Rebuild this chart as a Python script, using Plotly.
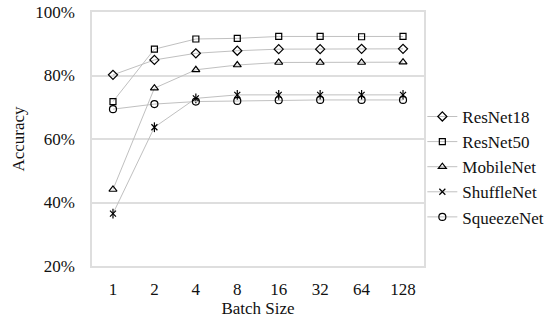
import plotly.graph_objects as go

batch_sizes = ["1", "2", "4", "8", "16", "32", "64", "128"]
resnet18 = [80.2, 84.9, 87.0, 87.8, 88.3, 88.3, 88.4, 88.4]
resnet50 = [71.8, 88.3, 91.5, 91.7, 92.3, 92.3, 92.2, 92.3]
mobilenet = [44.1, 76.0, 81.8, 83.3, 84.1, 84.1, 84.1, 84.2]
shufflenet = [36.5, 63.7, 72.8, 73.9, 73.9, 73.9, 73.9, 73.9]
squeezenet = [69.4, 71.0, 71.8, 72.0, 72.2, 72.3, 72.3, 72.3]
y_ticks = [20, 40, 60, 80, 100]
y_tick_text = ["20%", "40%", "60%", "80%", "100%"]

FONT = "Liberation Serif, Times New Roman, serif"
LINE_C = "#c0c0c0"
GRID_C = "#dedede"

series = [
    ("ResNet18", resnet18, "diamond-open", 7),
    ("ResNet50", resnet50, "square-open", 6),
    ("MobileNet", mobilenet, "triangle-up-open", 7),
    ("ShuffleNet", shufflenet, "x-thin-open", 6),
    ("SqueezeNet", squeezenet, "circle-open", 7),
]

fig = go.Figure()
for name, vals, sym, sz in series:
    fig.add_trace(go.Scatter(
        x=batch_sizes, y=vals, name=name, mode="lines+markers",
        legendgroup=name,
        line=dict(color=LINE_C, width=1),
        marker=dict(symbol=sym, size=sz, color="black",
                    line=dict(color="black", width=1.2)),
    ))
    if name == "ShuffleNet":
        fig.add_trace(go.Scatter(
            x=batch_sizes, y=vals, mode="markers", showlegend=False,
            legendgroup=name, hoverinfo="skip",
            marker=dict(symbol="line-ns-open", size=7, color="black",
                        line=dict(color="black", width=1.2)),
        ))

fig.update_layout(
    width=548, height=324,
    margin=dict(l=92, r=124, t=12, b=58, autoexpand=False),
    paper_bgcolor="white", plot_bgcolor="white",
    font=dict(family=FONT, size=17, color="#111111"),
    showlegend=True,
    legend=dict(x=0.995, y=0.39, xanchor="left", yanchor="middle",
                font=dict(size=17), itemwidth=30, tracegroupgap=0,
                bgcolor="rgba(0,0,0,0)"),
    xaxis=dict(
        type="category", showgrid=False, showline=True, linecolor=GRID_C,
        linewidth=1.5, mirror=True, ticks="", ticklabelstandoff=7,
        automargin=False,
        title=dict(text="Batch Size", standoff=4, font=dict(size=17)),
    ),
    yaxis=dict(
        range=[20, 100], tickmode="array", tickvals=y_ticks,
        ticktext=y_tick_text, automargin=False,
        showgrid=True, gridcolor=GRID_C, gridwidth=1.5,
        showline=True, linecolor=GRID_C, linewidth=1.5, mirror=True,
        ticks="", ticklabelstandoff=12, zeroline=False,
        title=dict(text="Accuracy", standoff=6, font=dict(size=17)),
    ),
)

fig.write_html("out.html")
